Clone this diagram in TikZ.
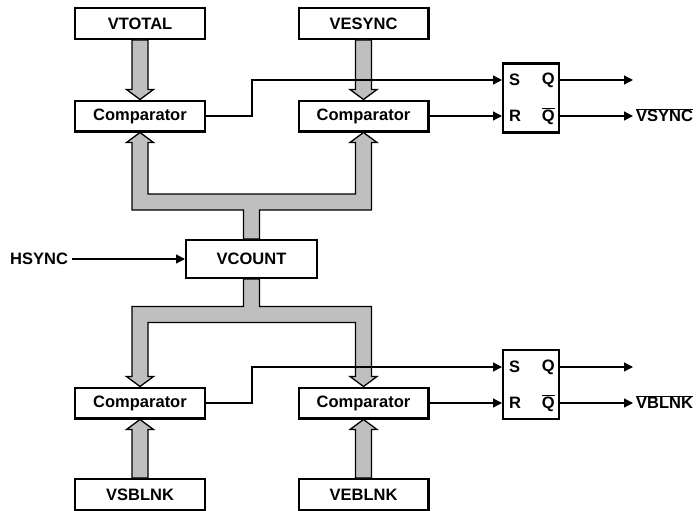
\documentclass[tikz,border=0pt]{standalone}
\usepackage{fontspec}
\setmainfont{Liberation Sans}
\usetikzlibrary{calc,arrows.meta}
\newcommand\vbusarrow[2]{%
  \draw[bus] let \p1=(#1), \p2=(#2), \n1={sign(\y1-\y2)} in
    (\x2-8pt,\y1) -- (\x2-8pt,\y2+\n1*10pt) -- (\x2-13.5pt,\y2+\n1*10pt) -- (\x2,\y2)
    -- (\x2+13.5pt,\y2+\n1*10pt) -- (\x2+8pt,\y2+\n1*10pt) -- (\x2+8pt,\y1) -- cycle;}
\begin{document}
\begin{tikzpicture}[x=1pt,y=-1pt,
  lbl/.style={font=\bfseries\fontsize{16.5}{16.5}\selectfont},
  box/.style={draw, line width=2.4pt, inner sep=0pt, minimum width=129.6pt, minimum height=30.6pt, lbl},
  ffbox/.style={draw, line width=2.2pt, inner sep=0pt, minimum width=55.8pt, minimum height=68.8pt},
  bus/.style={draw, line width=1.3pt, fill=black!25},
  wire/.style={line width=1.3pt},
  sig/.style={wire, -{Triangle[length=9pt,width=9pt]}},
  pin/.style={lbl, inner sep=0pt}]
\useasboundingbox (0,0) rectangle (699,511);

% boxes
\node[box] (vt) at (140,23.5) {VTOTAL};
\node[box] (ve) at (363.5,23.5) {VESYNC};
\node[box] (c1) at (140,116) {Comparator};
\node[box] (c2) at (363.5,116) {Comparator};
\node[box, minimum width=130.6pt, minimum height=37.6pt] (vc) at (251.5,259) {VCOUNT};
\node[box] (c3) at (140,403) {Comparator};
\node[box] (c4) at (363.5,403) {Comparator};
\node[box] (vs) at (140,494.5) {VSBLNK};
\node[box] (vb) at (363.5,494.5) {VEBLNK};

\node[ffbox] (f1) at (531,98) {};
\node[ffbox] (f2) at (531,384.5) {};

% flip-flop pins
\coordinate (s1) at ($(f1.west)+(0,-18)$);
\coordinate (r1) at ($(f1.west)+(0,18)$);
\coordinate (q1) at ($(f1.east)+(0,-18)$);
\coordinate (qb1) at ($(f1.east)+(0,18)$);
\coordinate (s2) at ($(f2.west)+(0,-17.5)$);
\coordinate (r2) at ($(f2.west)+(0,18.5)$);
\coordinate (q2) at ($(f2.east)+(0,-17.5)$);
\coordinate (qb2) at ($(f2.east)+(0,18.5)$);
\node[pin, anchor=west] (ls1) at ($(s1)+(7,0)$) {S};
\node[pin, anchor=west] (lr1) at ($(r1)+(7,0)$) {R};
\node[pin, anchor=east] (lq1) at ($(q1)+(-5,0)$) {Q};
\node[pin, anchor=east] (lqb1) at ($(qb1)+(-5,0)$) {$\overline{\mbox{Q}}$};
\node[pin, anchor=west] (ls2) at ($(s2)+(7,0)$) {S};
\node[pin, anchor=west] (lr2) at ($(r2)+(7,0)$) {R};
\node[pin, anchor=east] (lq2) at ($(q2)+(-5,0)$) {Q};
\node[pin, anchor=east] (lqb2) at ($(qb2)+(-5,0)$) {$\overline{\mbox{Q}}$};

% outputs
\coordinate (o1) at ($(q1)+(73,0)$);
\coordinate (ob1) at ($(qb1)+(73,0)$);
\coordinate (o2) at ($(q2)+(73,0)$);
\coordinate (ob2) at ($(qb2)+(73,0)$);
\node[pin, anchor=west] (vsync) at ($(ob1)+(3,-1)$) {$\overline{\mbox{VSYNC}}$};
\node[pin, anchor=west] (vblnk) at ($(ob2)+(3,-1)$) {$\overline{\mbox{VBLNK}}$};

% HSYNC
\node[lbl, anchor=west, inner sep=0pt] (hs) at (10,259) {HSYNC};

% buses
\coordinate (topbus) at (251.5,202);
\coordinate (botbus) at (251.5,314.5);
\vbusarrow{vt.south}{c1.north}
\vbusarrow{ve.south}{c2.north}
\vbusarrow{vs.north}{c3.south}
\vbusarrow{vb.north}{c4.south}

\draw[bus] let \p1=(vc.north), \p2=(c1.south), \p3=(c2.south), \p4=(topbus) in
  (\x1-8pt,\y1) -- (\x1-8pt,\y4-8pt) -- (\x2-8pt,\y4-8pt) -- (\x2-8pt,\y2-10pt)
  -- (\x2-13.5pt,\y2-10pt) -- (\x2,\y2) -- (\x2+13.5pt,\y2-10pt) -- (\x2+8pt,\y2-10pt)
  -- (\x2+8pt,\y4+8pt) -- (\x3-8pt,\y4+8pt) -- (\x3-8pt,\y3-10pt)
  -- (\x3-13.5pt,\y3-10pt) -- (\x3,\y3) -- (\x3+13.5pt,\y3-10pt) -- (\x3+8pt,\y3-10pt)
  -- (\x3+8pt,\y4-8pt) -- (\x1+8pt,\y4-8pt) -- (\x1+8pt,\y1) -- cycle;

\draw[bus] let \p1=(vc.south), \p2=(c3.north), \p3=(c4.north), \p4=(botbus) in
  (\x1-8pt,\y1) -- (\x1-8pt,\y4+8pt) -- (\x2-8pt,\y4+8pt) -- (\x2-8pt,\y2+10pt)
  -- (\x2-13.5pt,\y2+10pt) -- (\x2,\y2) -- (\x2+13.5pt,\y2+10pt) -- (\x2+8pt,\y2+10pt)
  -- (\x2+8pt,\y4-8pt) -- (\x3-8pt,\y4-8pt) -- (\x3-8pt,\y3+10pt)
  -- (\x3-13.5pt,\y3+10pt) -- (\x3,\y3) -- (\x3+13.5pt,\y3+10pt) -- (\x3+8pt,\y3+10pt)
  -- (\x3+8pt,\y4+8pt) -- (\x1+8pt,\y4+8pt) -- (\x1+8pt,\y1) -- cycle;

% wires
\coordinate (k1) at ($(c1.east)+(46,0)$);
\coordinate (k3) at ($(c3.east)+(46,0)$);
\draw[sig] (c1.east) -- (k1) |- (s1);
\draw[sig] (c2.east) -- (r1);
\draw[sig] (c3.east) -- (k3) |- (s2);
\draw[sig] (c4.east) -- (r2);
\draw[sig] (q1) -- (o1);
\draw[sig] (qb1) -- (ob1);
\draw[sig] (q2) -- (o2);
\draw[sig] (qb2) -- (ob2);
\draw[sig] (hs.east) ++(4,0) coordinate (hse) -- (vc.west);
\end{tikzpicture}
\end{document}
